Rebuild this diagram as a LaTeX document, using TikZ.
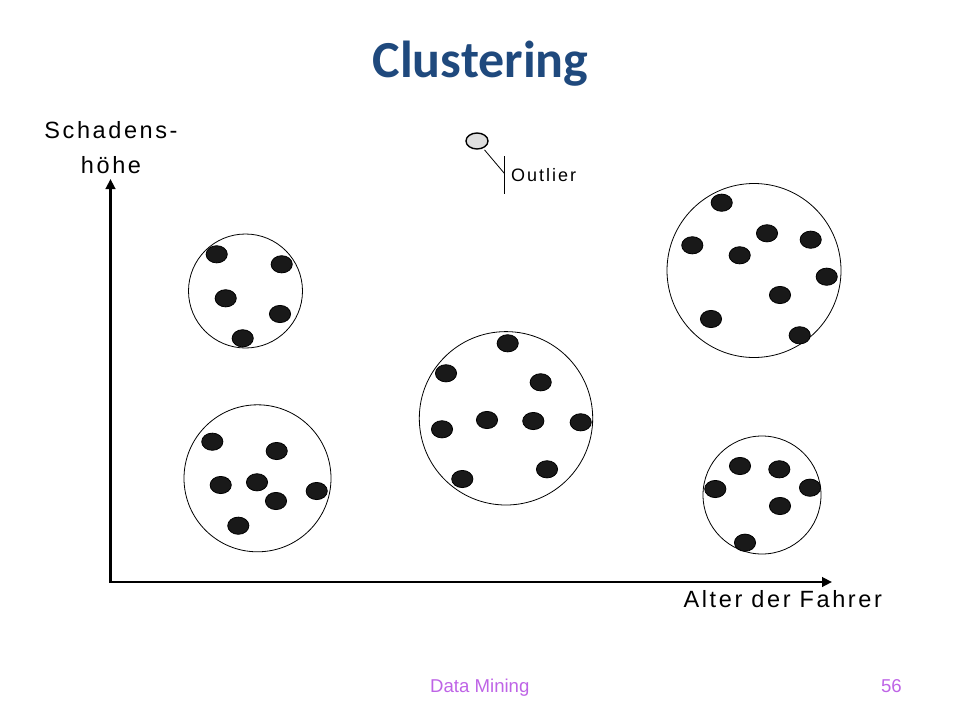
\documentclass[tikz,border=0pt]{standalone}
\usepackage{fontspec}
\usetikzlibrary{arrows.meta,shapes.geometric}
\setmainfont{Carlito}
\newfontfamily\labelfont[LetterSpace=11]{Liberation Sans}
\newfontfamily\footfont{Liberation Sans}
\definecolor{titleblue}{RGB}{31,73,125}
\definecolor{footviolet}{RGB}{190,100,230}
\tikzset{
  dot/.style={fill=black!90, draw=black, line width=0.8pt},
  ring/.style={draw=black, line width=0.8pt},
  axis/.style={line width=2.6pt, {Triangle[length=10pt,width=9.5pt]}-{Triangle[length=10pt,width=9.5pt]}},
  outlierdot/.style={ellipse, draw=black, fill=gray!25, line width=1.4pt, inner sep=0pt, minimum width=22pt, minimum height=16pt},
  lbl/.style={inner sep=0pt, font=\labelfont\fontsize{23.5}{27}\selectfont},
}
\begin{document}
\begin{tikzpicture}[x=1pt, y=-1pt]
    \useasboundingbox (0,0) rectangle (960,720);
      \node[anchor=base, inner sep=0pt, text=titleblue, font=\bfseries\fontsize{52}{62}\selectfont] (title) at (480.5,77) {Clustering};
      % axes
      \coordinate (origin) at (110.5,582);
      \coordinate (ytip) at (110.5,179);
      \coordinate (xtip) at (832,582);
      \draw[axis] (ytip) -- (origin) -- (xtip);
      \node[lbl, anchor=base] (ylabeltop) at (111,138.3) {Schadens-};
      \node[lbl, anchor=base] (ylabelbot) at (111,173.3) {höhe};
      \node[lbl, anchor=base west] (xlabel) at (683.5,607.3) {Alter der Fahrer};
      % clusters
      \draw[ring] (245.5,291) circle (57);
      \foreach \p in {(216.7,254.3),(281.7,264.3),(225.7,298.3),(280,314),(242.7,338.3)}
        \draw[dot] \p ellipse (10.6 and 8.6);
      \draw[ring] (257.5,478.3) circle (73.5);
      \foreach \p in {(212.3,441.7),(276.7,451),(220.7,485),(257,482.3),(276,501),(316.7,491),(238.3,525.7)}
        \draw[dot] \p ellipse (10.6 and 8.6);
      \draw[ring] (506,418.3) circle (86.7);
      \foreach \p in {(507.7,343.3),(446,373.3),(540.7,382.3),(442,429.3),(487,420),(533.3,421),(580.7,422.3),(462.3,479),(547,469.3)}
        \draw[dot] \p ellipse (10.6 and 8.6);
      \draw[ring] (754,270.5) circle (87);
      \foreach \p in {(721.7,202.7),(692.3,245.3),(767,233.3),(739.7,255.3),(810.7,239.7),(826.7,276.7),(780,295),(711,319),(799.7,335.3)}
        \draw[dot] \p ellipse (10.6 and 8.6);
      \draw[ring] (762,495) circle (59);
      \foreach \p in {(740,466),(779.3,469.3),(715.3,489),(810,487.7),(780,506),(745,542.7)}
        \draw[dot] \p ellipse (10.6 and 8.6);
      % outlier
      \node[outlierdot] (outlier) at (477,141) {};
      \coordinate (tick) at (504.3,173.3);
      \coordinate (ticktop) at (504.3,156);
      \coordinate (tickbot) at (504.3,194);
      \draw[line width=0.8pt, shorten <=2pt] (outlier) -- (tick);
      \draw[line width=1pt] (ticktop) -- (tickbot);
      \node[inner sep=0pt, anchor=base west, font=\labelfont\fontsize{18}{21}\selectfont] (outlierlabel) at (511,181) {Outlier};
      % footer
      \node[inner sep=0pt, anchor=base west, text=footviolet, font=\footfont\fontsize{18.6}{22}\selectfont] (footer) at (430,692.7) {Data Mining};
      \node[inner sep=0pt, anchor=base east, text=footviolet, font=\footfont\fontsize{18.6}{22}\selectfont] (pagenum) at (902,692.7) {56};
    \end{tikzpicture}
\end{document}
